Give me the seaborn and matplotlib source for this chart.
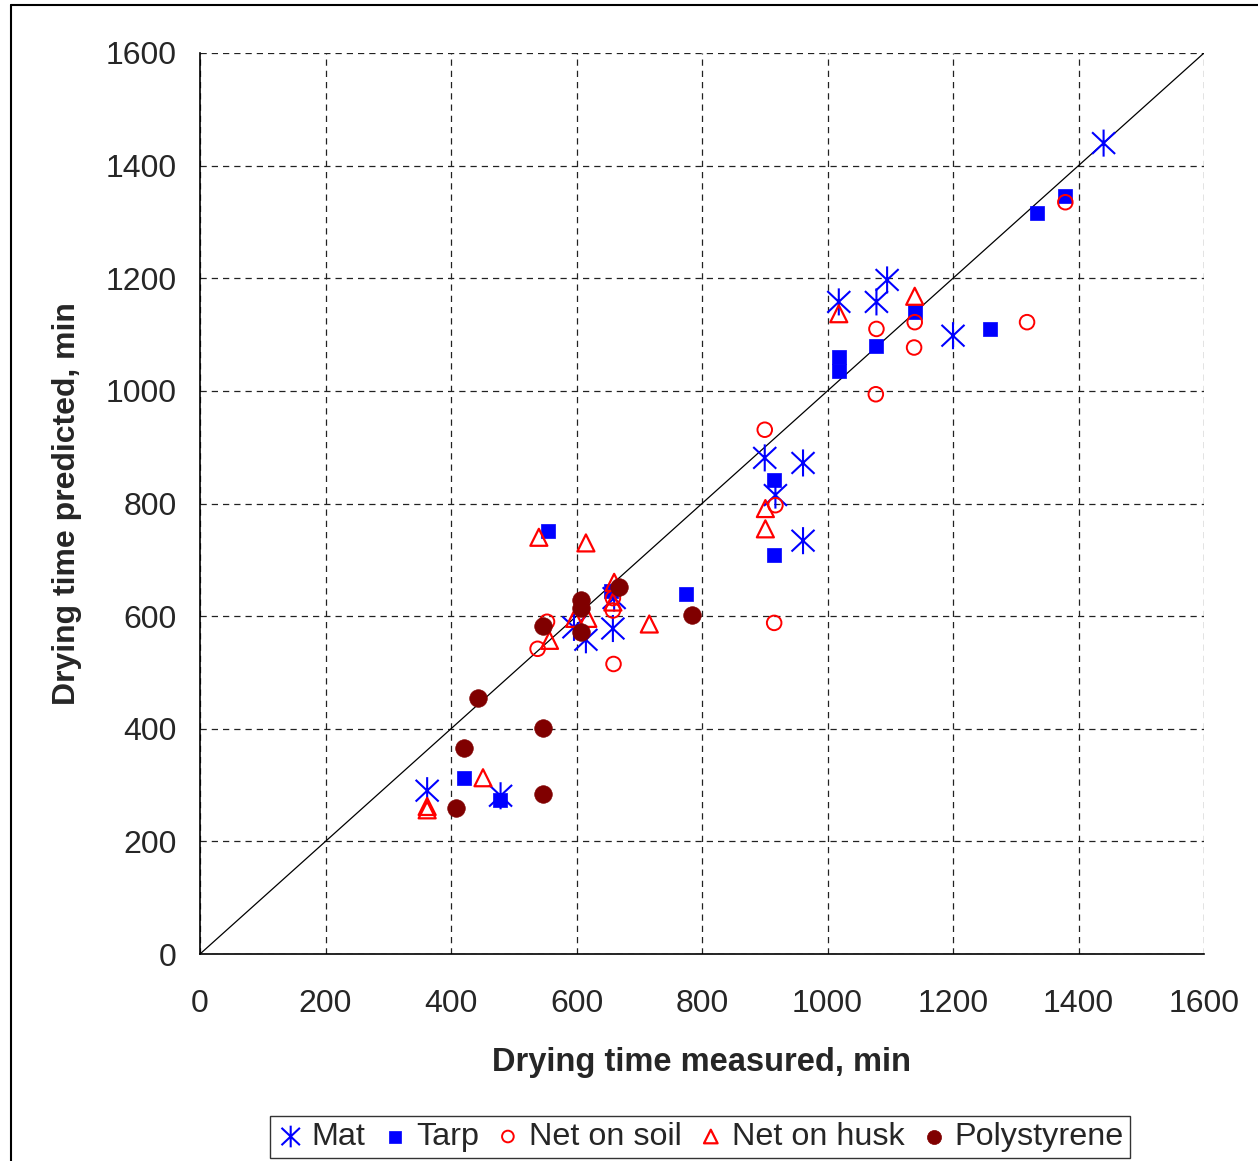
import matplotlib
matplotlib.use("Agg")
import matplotlib.pyplot as plt
import seaborn as sns
import numpy as np
from matplotlib.path import Path
from matplotlib.lines import Line2D

# ---- data ----
mat_x = [362, 479, 596, 615, 658, 660, 900, 917, 961, 961, 1018, 1078, 1095, 1200, 1440]
mat_y = [290, 281, 580, 558, 578, 632, 881, 815, 872, 734, 1158, 1158, 1197, 1098, 1440]

tarp_x = [421, 478, 555, 655, 775, 915, 915, 1018, 1018, 1077, 1139, 1259, 1334, 1379]
tarp_y = [313, 274, 751, 645, 639, 842, 708, 1060, 1036, 1080, 1140, 1110, 1316, 1346]

soil_x = [538, 553, 658, 658, 659, 900, 917, 915, 1077, 1078, 1138, 1139, 1318, 1379]
soil_y = [542, 590, 632, 610, 515, 931, 797, 588, 994, 1110, 1077, 1122, 1122, 1335]

husk_x = [362, 362, 451, 540, 557, 597, 618, 615, 660, 658, 716, 901, 901, 1018, 1139]
husk_y = [262, 256, 313, 740, 557, 596, 596, 730, 660, 625, 586, 791, 755, 1137, 1168]

poly_x = [408, 421, 443, 547, 547, 547, 607, 607, 607, 668, 784]
poly_y = [259, 366, 455, 285, 402, 583, 628, 614, 572, 651, 602]

ticks = [0, 200, 400, 600, 800, 1000, 1200, 1400, 1600]
line_xy = [0, 1600]

sns.set_style("white")
plt.rcParams['font.family'] = ['Liberation Sans', 'DejaVu Sans']

fig = plt.figure(figsize=(12.58, 11.61), dpi=100)
ax = fig.add_axes([200/1258, 1-954/1161, 1004/1258, 901/1161])

# star marker: vertical line + X
star = Path([(0, -1), (0, 1), (-0.85, -0.8), (0.85, 0.8), (-0.85, 0.8), (0.85, -0.8)],
            [Path.MOVETO, Path.LINETO, Path.MOVETO, Path.LINETO, Path.MOVETO, Path.LINETO])

# 1:1 line
sns.lineplot(x=line_xy, y=line_xy, ax=ax, color='black', linewidth=0.9, zorder=2)

sns.scatterplot(x=mat_x, y=mat_y, ax=ax, marker=star, s=380, facecolor='none',
                edgecolor='#0000FF', linewidth=1.5, zorder=3, label='Mat')
sns.scatterplot(x=tarp_x, y=tarp_y, ax=ax, marker='s', s=115, color='#0000FF',
                edgecolor='#0000FF', linewidth=0.5, zorder=3, label='Tarp')
sns.scatterplot(x=soil_x, y=soil_y, ax=ax, marker='o', s=110, facecolor='none',
                edgecolor='#FF0000', linewidth=1.4, zorder=4, label='Net on soil')
sns.scatterplot(x=husk_x, y=husk_y, ax=ax, marker='^', s=150, facecolor='none',
                edgecolor='#FF0000', linewidth=1.6, zorder=4, label='Net on husk')
sns.scatterplot(x=poly_x, y=poly_y, ax=ax, marker='o', s=160, color='#800000',
                edgecolor='#800000', linewidth=0.5, zorder=5, label='Polystyrene')

ax.set_xlim(0, 1600)
ax.set_ylim(0, 1600)
ax.set_xticks(ticks)
ax.set_yticks(ticks)
ax.set_xticklabels([str(t) for t in ticks])
ax.set_yticklabels([str(t) for t in ticks])
ax.tick_params(axis='both', labelsize=23, direction='out', length=6, width=1,
               color='black')
ax.tick_params(axis='x', pad=19)
ax.tick_params(axis='y', pad=11)

ax.grid(True, color='#222222', linestyle=(0, (5, 4)), linewidth=0.9)
ax.set_axisbelow(True)
for side in ['top', 'right']:
    ax.spines[side].set_visible(False)
for side in ['left', 'bottom']:
    ax.spines[side].set_color('black')
    ax.spines[side].set_linewidth(1.2)

ax.set_xlabel('Drying time measured, min', fontsize=23.5, fontweight='bold', labelpad=20)
ax.set_ylabel('Drying time predicted, min', fontsize=23, fontweight='bold', labelpad=17)

# legend
handles, labels = ax.get_legend_handles_labels()
if ax.get_legend():
    ax.get_legend().remove()
leg = fig.legend(handles, labels, loc='center', bbox_to_anchor=(700/1258, 1-1137/1161),
                 ncol=5, fontsize=23.3, frameon=True, fancybox=False, markerscale=0.8,
                 handletextpad=0.2, columnspacing=0.45, borderpad=0.2, handlelength=0.9,
                 edgecolor='black')
leg.get_frame().set_linewidth(1.0)

# outer chart-area border (only top and left visible in reference)
fig.add_artist(Line2D([11/1258, 11/1258], [0, 1-4.5/1161], transform=fig.transFigure,
                      color='black', linewidth=1.5))
fig.add_artist(Line2D([11/1258, 1], [1-4.5/1161, 1-4.5/1161], transform=fig.transFigure,
                      color='black', linewidth=1.5))

fig.savefig('out.png', dpi=100)
